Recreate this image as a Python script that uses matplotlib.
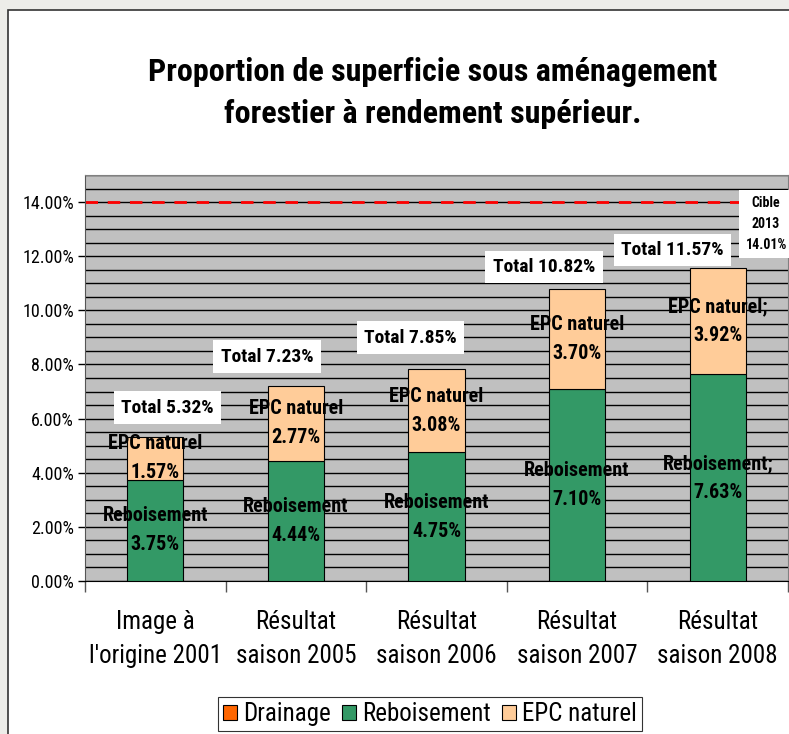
import numpy as np
import matplotlib.pyplot as plt
from matplotlib.patches import Rectangle, Patch
from matplotlib.ticker import MultipleLocator, FuncFormatter

plt.rcParams['font.family'] = ['Roboto Condensed', 'Liberation Sans', 'DejaVu Sans']

# data (percent)
categories = ["Image à\nl'origine 2001", "Résultat\nsaison 2005", "Résultat\nsaison 2006",
              "Résultat\nsaison 2007", "Résultat\nsaison 2008"]
drainage = [0.0, 0.0, 0.0, 0.0, 0.0]
reboisement = [3.75, 4.44, 4.75, 7.10, 7.63]
epc_naturel = [1.57, 2.77, 3.08, 3.70, 3.92]
totals = [5.32, 7.23, 7.85, 10.82, 11.57]
sep = ['', '', '', '', ';']  # last bar labels have a trailing ";"
target = 14.0
target_label = "Cible\n2013\n14.01%"

# label placement (layout only)
total_dx = [0.085, -0.206, -0.185, -0.235, -0.32]
total_dy = [1.09, 1.06, 1.14, 0.78, 0.66]

green = '#339966'
peach = '#FFCC99'
orange = '#FF6600'

fig = plt.figure(figsize=(7.89, 7.34), dpi=100)
fig.patch.set_facecolor('#EDEDE9')
# white chart panel
panel = Rectangle((8 / 789, -0.05), 1.1, 1 - 10 / 734 + 0.05,
                  transform=fig.transFigure, facecolor='white',
                  edgecolor='#333333', linewidth=1.2, zorder=-10)
fig.patches.append(panel)

ax = fig.add_axes([85 / 789, 1 - 581 / 734, (788 - 85) / 789, (581 - 175) / 734])
ax.set_facecolor('#C0C0C0')

x = np.arange(len(categories))
w = 0.4
ax.bar(x, drainage, w, color=orange, edgecolor='black', linewidth=0.8, zorder=3)
ax.bar(x, reboisement, w, color=green, edgecolor='black', linewidth=0.8, zorder=3)
ax.bar(x, epc_naturel, w, bottom=reboisement, color=peach, edgecolor='black',
       linewidth=0.8, zorder=3)

ax.set_ylim(0, 15)
ax.set_xlim(-0.5, len(categories) - 0.5)
ax.yaxis.set_major_locator(MultipleLocator(2))
ax.yaxis.set_minor_locator(MultipleLocator(0.5))
ax.yaxis.set_major_formatter(FuncFormatter(lambda v, p: f'{v:.2f}%'))
ax.grid(axis='y', which='both', color='black', linewidth=1.0, zorder=1)
ax.set_axisbelow(True)

ax.axhline(target, color='#FF0000', linewidth=2, linestyle=(0, (4.5, 3.5)), zorder=2)

ax.set_xticks(x)
ax.set_xticklabels(categories, fontsize=18, linespacing=1.5)
ax.set_xticks(np.arange(-0.5, len(categories)), minor=True)
ax.tick_params(axis='x', which='major', length=0, pad=21)
ax.tick_params(axis='x', which='minor', length=8, width=1, color='#555555')
ax.tick_params(axis='y', which='major', length=5, width=1, labelsize=13, pad=3)
ax.tick_params(axis='y', which='minor', length=0)

for s in ['top', 'right']:
    ax.spines[s].set_color('#808080')
ax.spines['left'].set_color('#555555')
ax.spines['bottom'].set_color('black')

lab = dict(ha='center', va='center', fontsize=14.5, fontweight='bold', zorder=5,
           linespacing=1.65)
for i in range(len(categories)):
    ax.text(x[i], reboisement[i] / 2, f'Reboisement{sep[i]}\n{reboisement[i]:.2f}%', **lab)
    ax.text(x[i], reboisement[i] + epc_naturel[i] / 2,
            f'EPC naturel{sep[i]}\n{epc_naturel[i]:.2f}%', **lab)
    ax.text(x[i] + total_dx[i], totals[i] + total_dy[i], f'Total {totals[i]:.2f}%',
            ha='center', va='center', fontsize=14, fontweight='bold', zorder=6,
            bbox=dict(boxstyle='square,pad=0.38', facecolor='white', edgecolor='none'))

ax.text(4.344, 13.19, target_label, ha='center', va='center', fontsize=10,
        fontweight='bold', linespacing=1.6, zorder=6, clip_on=False,
        bbox=dict(boxstyle='square,pad=0.45', facecolor='white', edgecolor='none'))

fig.text(0.548, 1 - 93 / 734, "Proportion de superficie sous aménagement\nforestier à rendement supérieur.",
         ha='center', va='center', fontsize=23, fontweight='bold', linespacing=1.5)

handles = [Patch(facecolor=orange, edgecolor='black', linewidth=0.8),
           Patch(facecolor=green, edgecolor='black', linewidth=0.8),
           Patch(facecolor=peach, edgecolor='black', linewidth=0.8)]
leg = fig.legend(handles, ['Drainage', 'Reboisement', 'EPC naturel'], loc='center',
                 bbox_to_anchor=(430 / 789, 1 - 714 / 734), ncol=3, fontsize=18,
                 frameon=True, fancybox=False, edgecolor='black', handlelength=0.55,
                 handleheight=0.55, handletextpad=0.25, columnspacing=0.45,
                 borderpad=0.2)
leg.get_frame().set_linewidth(0.8)

fig.savefig('out.png', dpi=100, facecolor=fig.get_facecolor())
